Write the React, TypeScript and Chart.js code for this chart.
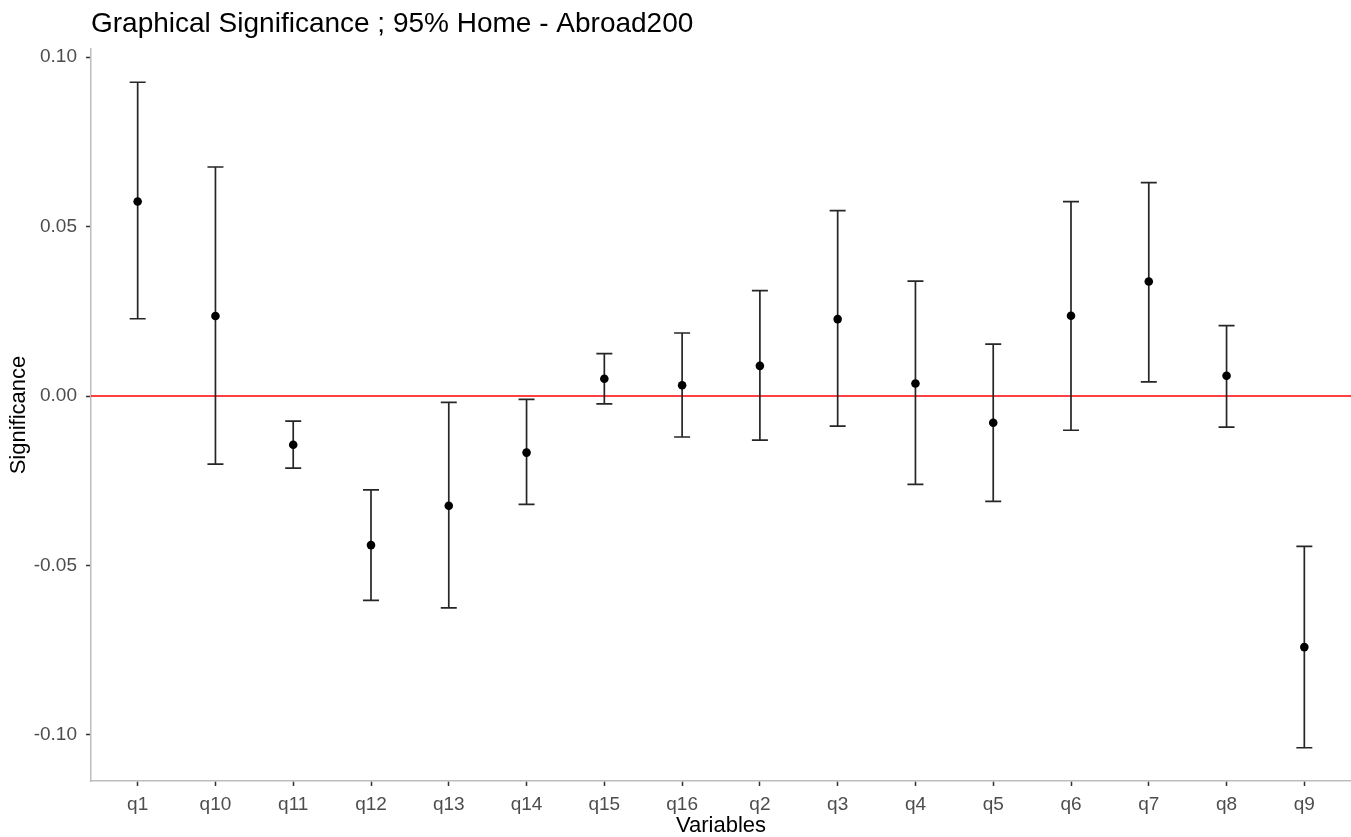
import { useEffect, useRef } from "react";
import { Chart, registerables } from "chart.js";

Chart.register(...registerables);

const categories = ["q1", "q10", "q11", "q12", "q13", "q14", "q15", "q16", "q2", "q3", "q4", "q5", "q6", "q7", "q8", "q9"];
const estimates = [0.0574, 0.0236, -0.0144, -0.044, -0.0324, -0.0167, 0.0051, 0.0032, 0.0089, 0.0227, 0.0037, -0.0079, 0.0237, 0.0338, 0.006, -0.0741];
const upperBounds = [0.0926, 0.0676, -0.0074, -0.0277, -0.0019, -0.001, 0.0125, 0.0186, 0.0311, 0.0547, 0.0339, 0.0153, 0.0574, 0.063, 0.0208, -0.0444];
const lowerBounds = [0.0228, -0.0201, -0.0213, -0.0603, -0.0625, -0.032, -0.0023, -0.0121, -0.013, -0.0089, -0.0261, -0.0311, -0.0101, 0.0042, -0.0092, -0.1038];
const yTickValues = [-0.1, -0.05, 0, 0.05, 0.1];
const referenceValue = 0;
const chartTitle = "Graphical Significance ; 95% Home - Abroad200";
const xTitle = "Variables";
const yTitle = "Significance";

const FONT = "'Liberation Sans', Arial, sans-serif";

export default function App() {
  const ref = useRef<HTMLCanvasElement | null>(null);

  useEffect(() => {
    if (!ref.current) return;
    const dataMax = Math.max(...upperBounds);
    const dataMin = Math.min(...lowerBounds);
    const span = dataMax - dataMin;
    const yMin = dataMin - 0.05 * span;
    const yMax = dataMax + 0.05 * span;

    const titlePlugin = {
      id: "ggTitle",
      afterDraw(chart: any) {
        const ctx = chart.ctx;
        ctx.save();
        ctx.fillStyle = "#000";
        ctx.font = `28px ${FONT}`;
        ctx.textAlign = "left";
        ctx.textBaseline = "alphabetic";
        ctx.fillText(chartTitle, chart.chartArea.left, 32);
        ctx.restore();
      },
    };

    const errorPlugin = {
      id: "errorBars",
      beforeDatasetsDraw(chart: any) {
        const ctx = chart.ctx;
        const xs = chart.scales.x;
        const ys = chart.scales.y;
        const area = chart.chartArea;
        ctx.save();
        const y0 = ys.getPixelForValue(referenceValue);
        ctx.strokeStyle = "#ff0000";
        ctx.lineWidth = 1.5;
        ctx.beginPath();
        ctx.moveTo(area.left, y0);
        ctx.lineTo(area.right, y0);
        ctx.stroke();
        ctx.strokeStyle = "#262626";
        ctx.lineWidth = 1.7;
        const half = 8;
        categories.forEach((_, i) => {
          const x = xs.getPixelForValue(i);
          const yu = ys.getPixelForValue(upperBounds[i]);
          const yl = ys.getPixelForValue(lowerBounds[i]);
          ctx.beginPath();
          ctx.moveTo(x, yu);
          ctx.lineTo(x, yl);
          ctx.moveTo(x - half, yu);
          ctx.lineTo(x + half, yu);
          ctx.moveTo(x - half, yl);
          ctx.lineTo(x + half, yl);
          ctx.stroke();
        });
        ctx.restore();
      },
    };

    const chart = new Chart(ref.current, {
      type: "scatter",
      data: {
        datasets: [
          {
            data: estimates.map((v, i) => ({ x: i, y: v })),
            backgroundColor: "#000",
            borderColor: "#000",
            pointRadius: 4.3,
            pointHoverRadius: 4.3,
            borderWidth: 0,
            showLine: false,
          },
        ],
      },
      options: {
        animation: false,
        responsive: false,
        layout: { autoPadding: false, padding: { top: 49, right: 0, bottom: 0, left: 0 } },
        plugins: {
          legend: { display: false },
          tooltip: { enabled: false },
          title: { display: false },
        },
        scales: {
          x: {
            type: "linear",
            min: -0.6,
            max: categories.length - 1 + 0.6,
            afterBuildTicks(scale: any) {
              scale.ticks = categories.map((_, i) => ({ value: i }));
            },
            afterFit(scale: any) {
              scale.height = 56;
              scale.paddingLeft = 0;
              scale.paddingRight = 0;
            },
            ticks: {
              callback: (v: any) => categories[Math.round(Number(v))] ?? "",
              color: "#4d4d4d",
              font: { family: FONT, size: 19 },
              padding: 7,
              maxRotation: 0,
              autoSkip: false,
            },
            grid: {
              display: true,
              drawOnChartArea: false,
              drawTicks: true,
              tickLength: 5,
              tickColor: "#333333",
              tickWidth: 1.5,
            },
            border: { display: true, color: "#bdbdbd", width: 1.5 },
            title: {
              display: true,
              text: xTitle,
              color: "#000",
              font: { family: FONT, size: 22, lineHeight: 1 },
              padding: { top: 0, bottom: 0 },
            },
          },
          y: {
            type: "linear",
            min: yMin,
            max: yMax,
            afterBuildTicks(scale: any) {
              scale.ticks = yTickValues.map((v) => ({ value: v }));
            },
            afterFit(scale: any) {
              scale.width = 91;
              scale.paddingTop = 0;
              scale.paddingBottom = 0;
            },
            ticks: {
              callback: (v: any) => Number(v).toFixed(2),
              color: "#4d4d4d",
              font: { family: FONT, size: 19 },
              padding: 9,
            },
            grid: {
              display: true,
              drawOnChartArea: false,
              drawTicks: true,
              tickLength: 5,
              tickColor: "#333333",
              tickWidth: 1.5,
            },
            border: { display: true, color: "#bdbdbd", width: 1.5 },
            title: {
              display: true,
              text: yTitle,
              color: "#000",
              font: { family: FONT, size: 22, lineHeight: 1 },
              padding: { top: 8, bottom: 0 },
            },
          },
        },
      },
      plugins: [titlePlugin, errorPlugin],
    });
    return () => chart.destroy();
  }, []);

  return (
    <div style={{ position: "fixed", left: 0, top: 0, width: 1351, height: 837, background: "#fff" }}>
      <canvas ref={ref} width={1351} height={837} style={{ display: "block", width: 1351, height: 837 }} />
    </div>
  );
}
